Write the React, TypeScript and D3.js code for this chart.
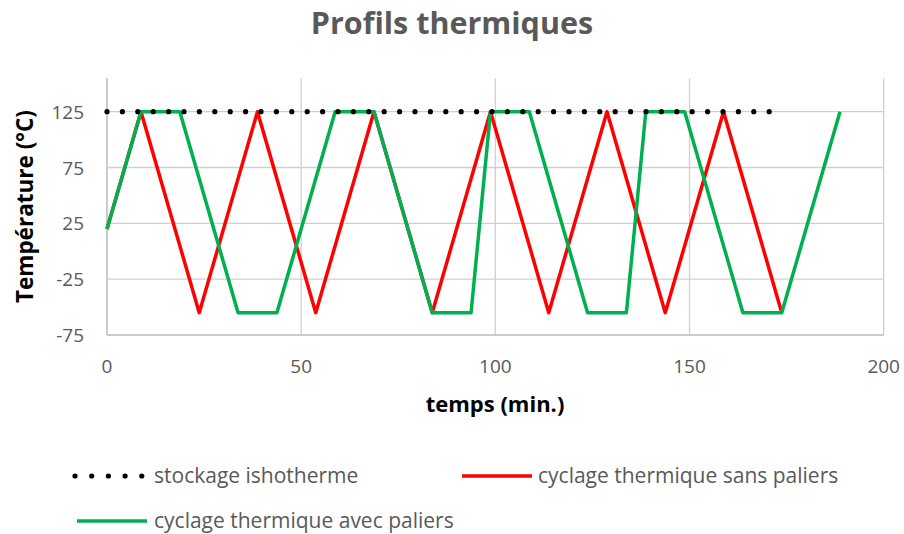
import React from "react";
import * as d3 from "d3";

const W = 904;
const H = 534;

// stockage isotherme
const isoTime = [0, 170.6];
const isoTemp = [125, 125];

// cyclage thermique sans paliers
const sansTime = [0, 8.75, 23.75, 38.75, 53.75, 68.75, 83.75, 98.75, 113.75, 128.75, 143.75, 158.75, 173.75];
const sansTemp = [20, 125, -55, 125, -55, 125, -55, 125, -55, 125, -55, 125, -55];

// cyclage thermique avec paliers
const avecTime = [0, 8.75, 18.75, 33.75, 43.75, 58.75, 68.75, 83.75, 93.75, 98.75, 108.75, 123.75, 133.75, 138.75, 148.75, 163.75, 173.75, 188.75];
const avecTemp = [20, 125, 125, -55, -55, 125, 125, -55, -55, 125, 125, -55, -55, 125, 125, -55, -55, 125];

const xTicks = [0, 50, 100, 150, 200];
const yTicks = [-75, -25, 25, 75, 125];

const title = "Profils thermiques";
const xTitle = "temps (min.)";
const yTitle = "Température (°C)";
const seriesNames = ["stockage ishotherme", "cyclage thermique sans paliers", "cyclage thermique avec paliers"];

const FONT = "'Open Sans', 'Liberation Sans', sans-serif";
const GRAY = "#595959";

export default function App() {
  const x = d3.scaleLinear().domain([0, 200]).range([107, 883.7]);
  const y = d3.scaleLinear().domain([-75, 155]).range([335, 78.2]);

  const line = d3
    .line<[number, number]>()
    .x((d) => x(d[0]))
    .y((d) => y(d[1]));

  const zip = (a: number[], b: number[]) => a.map((v, i) => [v, b[i]] as [number, number]);

  const [x0, x1] = x.range();
  const [y0, y1] = y.range();

  return (
    <svg
      width={W}
      height={H}
      style={{ position: "fixed", left: 0, top: 0, background: "#fff" }}
      fontFamily={FONT}
    >
      <rect x={0} y={0} width={W} height={H} fill="#fff" />
      <text x={452} y={34} textAnchor="middle" fontSize={30.5} fontWeight="bold" fill={GRAY}>
        {title}
      </text>

      {/* gridlines */}
      {yTicks.map((t) => (
        <line key={"gy" + t} x1={x0} x2={x1} y1={y(t)} y2={y(t)} stroke="#d0d0d0" strokeWidth={1.3} />
      ))}
      {xTicks.map((t) => (
        <line key={"gx" + t} x1={x(t)} x2={x(t)} y1={y0} y2={y1} stroke="#d0d0d0" strokeWidth={1.3} />
      ))}
      <line x1={x0} x2={x1} y1={y0} y2={y0} stroke="#c4c4c4" strokeWidth={1.5} />
      <line x1={x0} x2={x0} y1={y0} y2={y1} stroke="#c4c4c4" strokeWidth={1.5} />

      {/* tick labels */}
      {yTicks.map((t) => (
        <text key={"ly" + t} x={84} y={y(t) + 7} textAnchor="end" fontSize={19} fill={GRAY}>
          {t}
        </text>
      ))}
      {xTicks.map((t) => (
        <text key={"lx" + t} x={x(t)} y={373} textAnchor="middle" fontSize={19} fill={GRAY}>
          {t}
        </text>
      ))}

      <text x={495} y={412} textAnchor="middle" fontSize={22} fontWeight="bold" fill="#000">
        {xTitle}
      </text>
      <text
        transform={`translate(33, ${(y0 + y1) / 2}) rotate(-90)`}
        textAnchor="middle"
        fontSize={22.5}
        fontWeight="bold"
        fill="#000"
      >
        {yTitle}
      </text>

      {/* series */}
      <path d={line(zip(sansTime, sansTemp)) || ""} fill="none" stroke="#ff0000" strokeWidth={3.5} strokeLinejoin="round" />
      <path d={line(zip(avecTime, avecTemp)) || ""} fill="none" stroke="#00b050" strokeWidth={3.5} strokeLinejoin="round" />
      <path
        d={line(zip(isoTime, isoTemp)) || ""}
        fill="none"
        stroke="#000"
        strokeWidth={5.2}
        strokeLinecap="round"
        strokeDasharray="0 15.4"
      />

      {/* legend */}
      <line x1={75} x2={142.5} y1={476} y2={476} stroke="#000" strokeWidth={5.2} strokeLinecap="round" strokeDasharray="0 16.7" />
      <text x={154} y={483} fontSize={21} fill={GRAY}>{seriesNames[0]}</text>
      <line x1={462} x2={532} y1={476} y2={476} stroke="#ff0000" strokeWidth={3.5} />
      <text x={538} y={483} fontSize={21} fill={GRAY}>{seriesNames[1]}</text>
      <line x1={77} x2={147} y1={521} y2={521} stroke="#00b050" strokeWidth={3.5} />
      <text x={154} y={528} fontSize={21} fill={GRAY}>{seriesNames[2]}</text>
    </svg>
  );
}
